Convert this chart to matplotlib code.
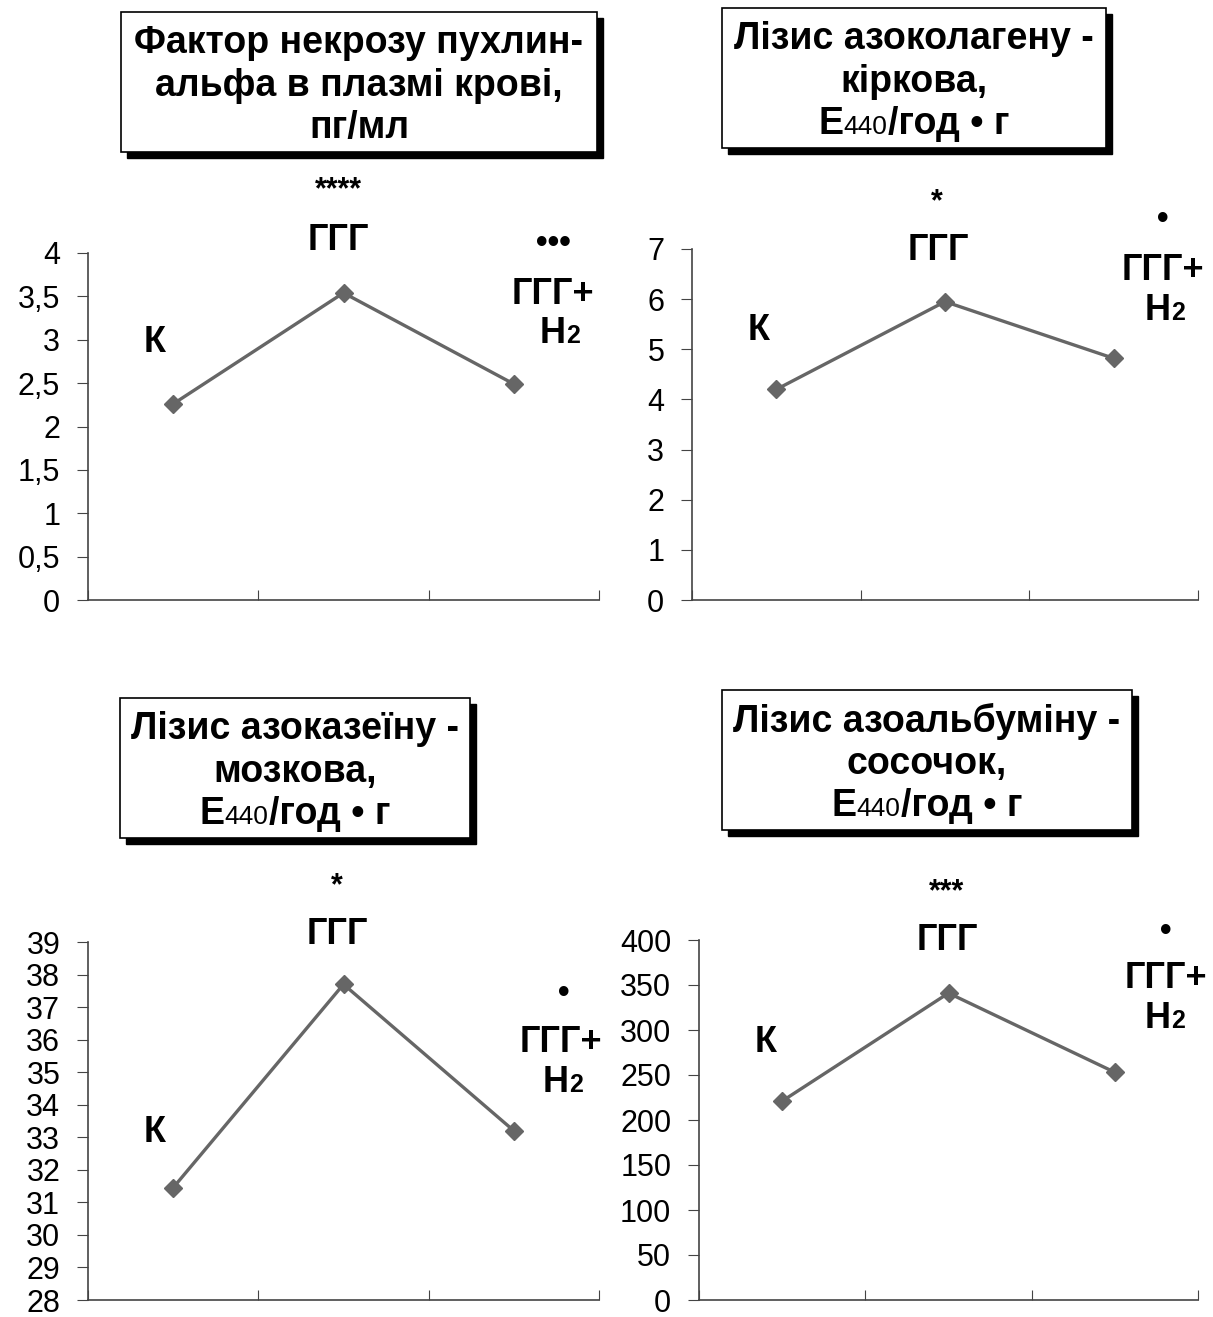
import matplotlib
matplotlib.use('Agg')
import matplotlib.pyplot as plt
from matplotlib.patches import Rectangle
from matplotlib.offsetbox import TextArea, HPacker, AnnotationBbox

plt.rcParams['font.family'] = ['Liberation Sans', 'DejaVu Sans']

W, H = 1213, 1317

# values (groups: К, ГГГ, ГГГ+H2)
tnf = [2.26, 3.54, 2.49]
collagen = [4.2, 5.95, 4.82]
casein = [31.45, 37.7, 33.2]
albumin = [221, 341, 253]

tnf_ticks = [0, 0.5, 1, 1.5, 2, 2.5, 3, 3.5, 4]
collagen_ticks = [0, 1, 2, 3, 4, 5, 6, 7]
casein_ticks = list(range(28, 40))
albumin_ticks = [0, 50, 100, 150, 200, 250, 300, 350, 400]

titles = [
    ['Фактор некрозу пухлин-', 'альфа в плазмі крові,', 'пг/мл'],
    ['Лізис азоколагену -', 'кіркова,', None],
    ['Лізис азоказеїну -', 'мозкова,', None],
    ['Лізис азоальбуміну -', 'сосочок,', None],
]
stars = ['****', '*', '*', '***']
bullets = ['•••', '•', '•', '•']


def fx(x):
    return x / W


def fy(y):
    return 1 - y / H


fig = plt.figure(figsize=(W / 100, H / 100), dpi=100)

# layout in pixels: axes (x0, x1, ytop, ybot), title box (x0, x1, y0, y1)
panels = [
    dict(vals=tnf, ticks=tnf_ticks, ax=(88, 599, 253, 600), box=(121, 597, 12, 152),
         K=(155, 343), G=(338, 240), star=(338, 190), bul=(553, 243), G2=(553, 294), H2=(560, 333)),
    dict(vals=collagen, ticks=collagen_ticks, ax=(692, 1198, 249, 600), box=(722, 1106, 8, 148),
         K=(759, 330), G=(938, 250), star=(937, 202), bul=(1163, 220), G2=(1163, 270), H2=(1165, 310)),
    dict(vals=casein, ticks=casein_ticks, ax=(88, 599, 942, 1300), box=(120, 470, 698, 838),
         K=(155, 1133), G=(337, 935), star=(337, 886), bul=(564, 994), G2=(561, 1043), H2=(563, 1083)),
    dict(vals=albumin, ticks=albumin_ticks, ax=(699, 1198, 940, 1300), box=(722, 1132, 690, 830),
         K=(766, 1043), G=(947, 940), star=(947, 892), bul=(1166, 931), G2=(1166, 978), H2=(1165, 1018)),
]

line_col = '#666666'

for i, p in enumerate(panels):
    x0, x1, yt, yb = p['ax']
    ax = fig.add_axes([fx(x0), fy(yb), (x1 - x0) / W, (yb - yt) / H])
    ax.plot(range(3), p['vals'], color=line_col, lw=2.4, marker='D', ms=9,
            mfc=line_col, mec=line_col)
    ax.set_xlim(-0.5, 2.5)
    ax.set_xticks([-0.5, 0.5, 1.5, 2.5])
    ax.set_xticklabels([])
    ax.set_ylim(p['ticks'][0], p['ticks'][-1])
    ax.set_yticks(p['ticks'])
    ax.set_yticklabels([f'{v:g}'.replace('.', ',') for v in p['ticks']])
    ax.tick_params(axis='x', direction='in', length=7, color='#444444')
    ax.tick_params(axis='y', direction='out', length=8, color='#444444',
                   labelsize=22, pad=12)
    for s in ['top', 'right']:
        ax.spines[s].set_visible(False)
    for s in ['left', 'bottom']:
        ax.spines[s].set_color('#444444')
        ax.spines[s].set_linewidth(1.2)
    ax.patch.set_alpha(0)

    # group labels
    bold = dict(fontsize=26, fontweight='bold', ha='center', va='center')
    fig.text(fx(p['K'][0]), fy(p['K'][1]), 'К', **bold)
    fig.text(fx(p['G'][0]), fy(p['G'][1]), 'ГГГ', **bold)
    fig.text(fx(p['G2'][0]), fy(p['G2'][1]), 'ГГГ+', **bold)
    fig.text(fx(p['star'][0]), fy(p['star'][1]), stars[i], fontsize=22,
             fontweight='bold', ha='center', va='center')
    fig.text(fx(p['bul'][0]), fy(p['bul'][1]), bullets[i], fontsize=24,
             fontweight='bold', ha='center', va='center')
    h2 = HPacker(children=[TextArea('H', textprops=dict(fontsize=26, fontweight='bold')),
                           TextArea('2', textprops=dict(fontsize=18, fontweight='bold'))],
                 align='baseline', pad=0, sep=0)
    fig.add_artist(AnnotationBbox(h2, (fx(p['H2'][0]), fy(p['H2'][1])),
                                  xycoords='figure fraction', frameon=False,
                                  box_alignment=(0.5, 0.5)))

    # title box with shadow
    bx0, bx1, by0, by1 = p['box']
    sh = 6
    fig.add_artist(Rectangle((fx(bx0 + sh), fy(by1 + sh)), (bx1 - bx0) / W, (by1 - by0) / H,
                             transform=fig.transFigure, facecolor='black', edgecolor='black'))
    fig.add_artist(Rectangle((fx(bx0), fy(by1)), (bx1 - bx0) / W, (by1 - by0) / H,
                             transform=fig.transFigure, facecolor='white', edgecolor='black',
                             lw=1.2))
    cx = (bx0 + bx1) / 2
    lines = titles[i]
    ly = [by0 + 31, by0 + 74, by0 + 116]
    for k, txt in enumerate(lines):
        if txt is not None:
            fig.text(fx(cx), fy(ly[k]), txt, fontsize=27, fontweight='bold',
                     ha='center', va='center')
        else:
            unit = HPacker(children=[
                TextArea('Е', textprops=dict(fontsize=27, fontweight='bold')),
                TextArea('440', textprops=dict(fontsize=19)),
                TextArea('/год • г', textprops=dict(fontsize=27, fontweight='bold'))],
                align='baseline', pad=0, sep=0)
            fig.add_artist(AnnotationBbox(unit, (fx(cx), fy(ly[k])),
                                          xycoords='figure fraction', frameon=False,
                                          box_alignment=(0.5, 0.5)))

fig.savefig('out.png', dpi=100, facecolor='white')
